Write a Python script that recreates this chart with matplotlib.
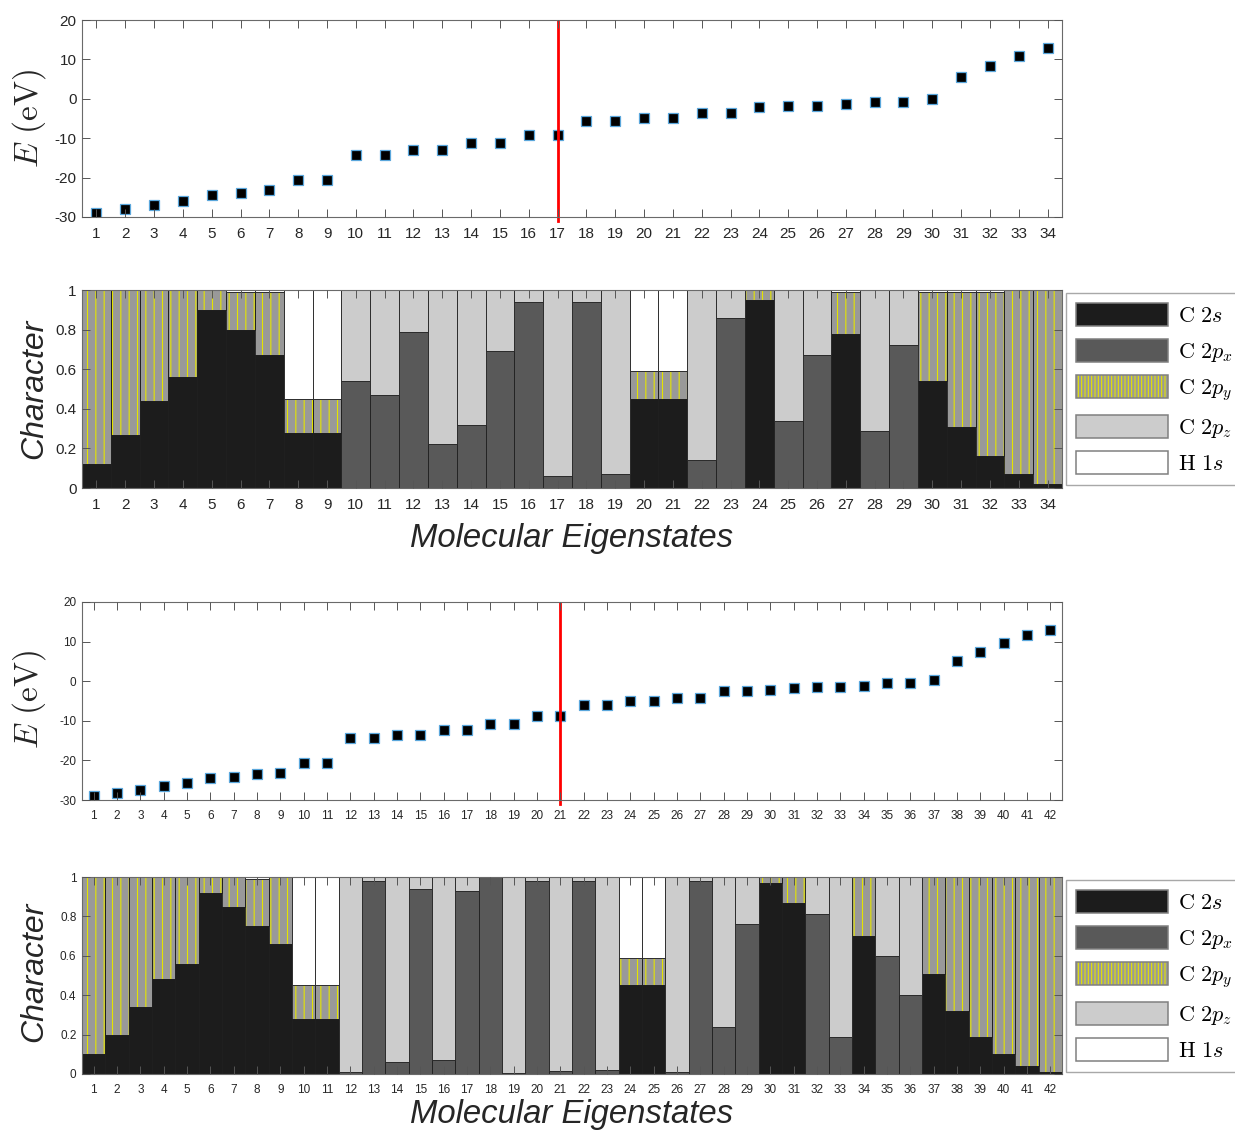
import matplotlib
matplotlib.use('Agg')
import matplotlib.pyplot as plt
from matplotlib.patches import Patch
from matplotlib.legend_handler import HandlerTuple

plt.rcParams['mathtext.fontset'] = 'cm'
plt.rcParams['axes.unicode_minus'] = False
plt.rcParams['font.family'] = ['Liberation Sans', 'DejaVu Sans']
plt.rcParams['hatch.linewidth'] = 0.8

# ---- molecule A: 34 eigenstates ----
states_a = list(range(1, 35))
energy_a = [-28.9, -28.0, -27.0, -26.0, -24.5, -23.8, -23.1, -20.6, -20.6, -14.3,
            -14.3, -13.1, -13.1, -11.3, -11.3, -9.2, -9.2, -5.75, -5.75, -4.9,
            -4.9, -3.55, -3.55, -2.0, -1.85, -1.85, -1.35, -0.7, -0.7, 0.0,
            5.5, 8.2, 10.8, 12.85]
homo_a = 17
c2s_a = [0.12, 0.27, 0.44, 0.56, 0.90, 0.80, 0.67, 0.28, 0.28, 0, 0, 0, 0, 0, 0, 0, 0,
         0, 0, 0.45, 0.45, 0, 0, 0.95, 0, 0, 0.78, 0, 0, 0.54, 0.31, 0.16, 0.07, 0.02]
c2px_a = [0, 0, 0, 0, 0, 0, 0, 0, 0, 0.54, 0.47, 0.79, 0.22, 0.32, 0.69, 0.94, 0.06,
          0.94, 0.07, 0, 0, 0.14, 0.86, 0, 0.34, 0.67, 0, 0.29, 0.72, 0, 0, 0, 0, 0]
c2py_a = [0.88, 0.73, 0.56, 0.44, 0.10, 0.19, 0.32, 0.17, 0.17, 0, 0, 0, 0, 0, 0, 0, 0,
          0, 0, 0.14, 0.14, 0, 0, 0.05, 0, 0, 0.21, 0, 0, 0.45, 0.68, 0.83, 0.93, 0.98]
c2pz_a = [0, 0, 0, 0, 0, 0, 0, 0, 0, 0.46, 0.53, 0.21, 0.78, 0.68, 0.31, 0.06, 0.94,
          0.06, 0.93, 0, 0, 0.86, 0.14, 0, 0.66, 0.33, 0, 0.71, 0.28, 0, 0, 0, 0, 0]
h1s_a = [0, 0, 0, 0, 0, 0.01, 0.01, 0.55, 0.55, 0, 0, 0, 0, 0, 0, 0, 0,
         0, 0, 0.41, 0.41, 0, 0, 0, 0, 0, 0.01, 0, 0, 0.01, 0.01, 0.01, 0, 0]

# ---- molecule B: 42 eigenstates ----
states_b = list(range(1, 43))
energy_b = [-29.1, -28.3, -27.5, -26.5, -25.8, -24.5, -24.1, -23.5, -23.1, -20.7,
            -20.7, -14.4, -14.4, -13.6, -13.6, -12.2, -12.2, -10.8, -10.8, -8.9,
            -8.9, -5.9, -5.9, -4.9, -4.9, -4.2, -4.2, -2.5, -2.5, -2.2,
            -1.7, -1.35, -1.35, -1.1, -0.5, -0.5, 0.35, 5.15, 7.25, 9.7,
            11.65, 13.0]
homo_b = 21
c2s_b = [0.10, 0.20, 0.34, 0.48, 0.56, 0.92, 0.85, 0.75, 0.66, 0.28, 0.28,
         0, 0, 0, 0, 0, 0, 0, 0, 0, 0, 0, 0,
         0.45, 0.45, 0, 0, 0, 0, 0.97, 0.87, 0, 0, 0.70, 0, 0,
         0.51, 0.32, 0.19, 0.10, 0.04, 0.01]
c2px_b = [0, 0, 0, 0, 0, 0, 0, 0, 0, 0, 0,
          0.01, 0.98, 0.06, 0.94, 0.07, 0.93, 1.00, 0.005, 0.98, 0.015, 0.98, 0.02,
          0, 0, 0.01, 0.98, 0.24, 0.76, 0, 0, 0.81, 0.19, 0, 0.60, 0.40,
          0, 0, 0, 0, 0, 0]
c2py_b = [0.90, 0.80, 0.66, 0.52, 0.44, 0.08, 0.15, 0.24, 0.34, 0.17, 0.17,
          0, 0, 0, 0, 0, 0, 0, 0, 0, 0, 0, 0,
          0.14, 0.14, 0, 0, 0, 0, 0.03, 0.13, 0, 0, 0.30, 0, 0,
          0.49, 0.68, 0.81, 0.90, 0.96, 0.99]
c2pz_b = [0, 0, 0, 0, 0, 0, 0, 0, 0, 0, 0,
          0.99, 0.02, 0.94, 0.06, 0.93, 0.07, 0, 0.995, 0.02, 0.985, 0.02, 0.98,
          0, 0, 0.99, 0.02, 0.76, 0.24, 0, 0, 0.19, 0.81, 0, 0.40, 0.60,
          0, 0, 0, 0, 0, 0]
h1s_b = [0, 0, 0, 0, 0, 0, 0, 0.01, 0, 0.55, 0.55,
         0, 0, 0, 0, 0, 0, 0, 0, 0, 0, 0, 0,
         0.41, 0.41, 0, 0, 0, 0, 0, 0, 0, 0, 0, 0, 0,
         0, 0, 0, 0, 0, 0]

e_ticks = [-30, -20, -10, 0, 10, 20]
c_ticks = [0, 0.2, 0.4, 0.6, 0.8, 1]
c_ticklabels = ['0', '0.2', '0.4', '0.6', '0.8', '1']

orb_labels = [r'$\mathrm{C}\ 2s$', r'$\mathrm{C}\ 2p_x$', r'$\mathrm{C}\ 2p_y$',
              r'$\mathrm{C}\ 2p_z$', r'$\mathrm{H}\ 1s$']
orb_colors = ['#1c1c1c', '#595959', '#999999', '#cccccc', '#ffffff']
hatch_col = '#e4e400'
edge_col = '#1e1e1e'
tick_col = '#262626'

W, H = 1235, 1133
fig = plt.figure(figsize=(W / 100, H / 100), dpi=100)


def px_axes(left, top, right, bottom):
    return fig.add_axes([left / W, 1 - bottom / H, (right - left) / W, (bottom - top) / H])


def style(ax, fs):
    for s in ax.spines.values():
        s.set_color('#6a6a6a')
        s.set_linewidth(0.8)
    ax.tick_params(direction='in', top=True, right=True, length=6, width=0.7,
                   color='#555555', labelsize=fs, labelcolor=tick_col)
    ax.tick_params(axis='x', pad=7)
    ax.tick_params(axis='y', pad=4)
    ax.set_axisbelow(False)


def energy_panel(ax, states, energy, homo, fs):
    ax.plot(states, energy, 's', ms=7.5, mfc='black', mec='#5aa7dc', mew=0.9, ls='none')
    ax.axvline(homo, ymin=-0.022, ymax=0.997, color='#ff0000', lw=2, clip_on=False)
    ax.set_xlim(0.5, len(states) + 0.5)
    ax.set_ylim(-30, 20)
    ax.set_xticks(states)
    ax.set_yticks(e_ticks)
    style(ax, fs)


def character_panel(ax, states, parts, fs):
    bottom = [0.0] * len(states)
    for i, (vals, col) in enumerate(zip(parts, orb_colors)):
        if i == 2:
            ax.bar(states, vals, width=1, bottom=bottom, color=col,
                   edgecolor=hatch_col, hatch='||', linewidth=0)
            ax.bar(states, vals, width=1, bottom=bottom, facecolor='none',
                   edgecolor=edge_col, linewidth=0.6)
        else:
            ax.bar(states, vals, width=1, bottom=bottom, color=col,
                   edgecolor=edge_col, linewidth=0.6)
        bottom = [b + v for b, v in zip(bottom, vals)]
    ax.set_xlim(0.5, len(states) + 0.5)
    ax.set_ylim(0, 1)
    ax.set_xticks(states)
    ax.set_yticks(c_ticks)
    ax.set_yticklabels(c_ticklabels)
    style(ax, fs)


def add_legend(x, y):
    handles = []
    for i, col in enumerate(orb_colors):
        if i == 2:
            handles.append((Patch(facecolor=col, edgecolor=hatch_col, hatch='|||||', linewidth=0),
                            Patch(facecolor='none', edgecolor='#808080', linewidth=1.1)))
        else:
            handles.append(Patch(facecolor=col, edgecolor='#808080', linewidth=1.1))
    fig.legend(handles, orb_labels, loc='upper left', bbox_to_anchor=(x / W, 1 - y / H),
               borderaxespad=0, fancybox=False, edgecolor='#a8a8a8', framealpha=1,
               fontsize=16, handlelength=4.15, handleheight=1.22, labelspacing=0.52,
               handletextpad=0.45, borderpad=0.45,
               handler_map={tuple: HandlerTuple(ndivide=1, pad=0)})


ax1 = px_axes(82, 20, 1062, 217)
energy_panel(ax1, states_a, energy_a, homo_a, 11)
ax2 = px_axes(82, 290, 1062, 488)
character_panel(ax2, states_a, [c2s_a, c2px_a, c2py_a, c2pz_a, h1s_a], 11)
add_legend(1066, 293)

ax3 = px_axes(82, 602, 1062, 800)
energy_panel(ax3, states_b, energy_b, homo_b, 8.5)
ax4 = px_axes(82, 877, 1062, 1074)
character_panel(ax4, states_b, [c2s_b, c2px_b, c2py_b, c2pz_b, h1s_b], 8.5)
add_legend(1066, 880)

# axis titles
for cy in (119, 700):
    fig.text(29 / W, 1 - cy / H, r'$E\ (\mathrm{eV})$', rotation=90, ha='center',
             va='center', fontsize=24, color=tick_col)
for cy in (389, 972):
    fig.text(34 / W, 1 - cy / H, 'Character', rotation=90, ha='center', va='center',
             fontsize=23, style='italic', color=tick_col)
for cy in (538, 1115):
    fig.text(572 / W, 1 - cy / H, 'Molecular Eigenstates', ha='center', va='center',
             fontsize=23.7, style='italic', color=tick_col)

fig.savefig('out.png', dpi=100)
